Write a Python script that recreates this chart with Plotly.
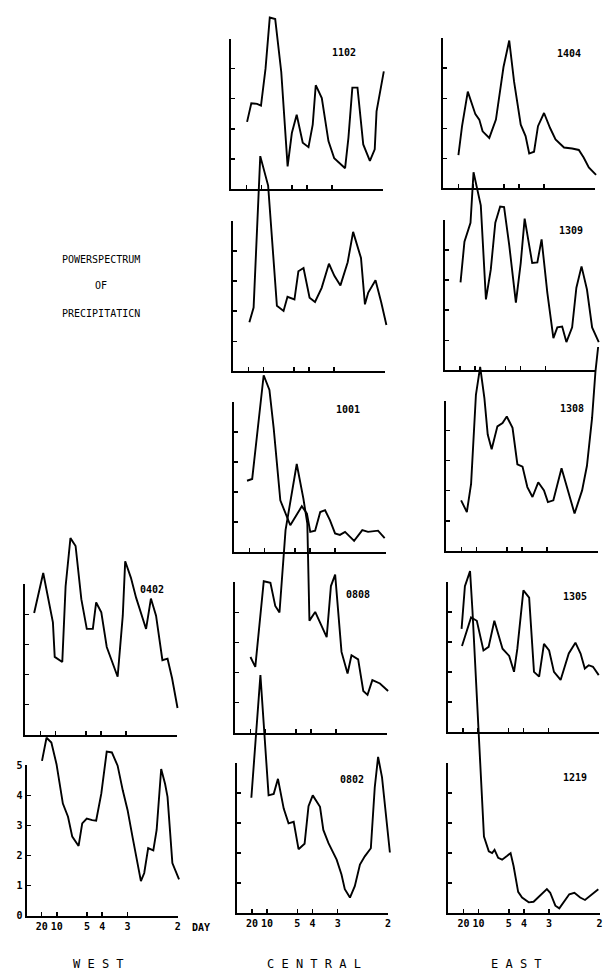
import plotly.graph_objects as go

# ---------------- data: frequency (cycles/day) and power (relative units) ----------------
f_0402 = [0.029, 0.059, 0.091, 0.097, 0.122, 0.133, 0.149, 0.166, 0.185, 0.203, 0.223, 0.234,
          0.251, 0.269, 0.305, 0.322, 0.330, 0.349, 0.366, 0.399, 0.415, 0.432, 0.453, 0.470,
          0.485, 0.503]
p_0402 = [4.05, 5.38, 3.74, 2.59, 2.42, 4.94, 6.54, 6.28, 4.51, 3.52, 3.52, 4.40,
          4.07, 2.92, 1.93, 3.96, 5.77, 5.22, 4.56, 3.52, 4.53, 3.96, 2.48, 2.53,
          1.88, 0.89]

f_0101 = [0.051, 0.066, 0.082, 0.099, 0.120, 0.137, 0.151, 0.172, 0.184, 0.199, 0.217, 0.230,
          0.247, 0.265, 0.282, 0.301, 0.318, 0.334, 0.351, 0.378, 0.389, 0.402, 0.419, 0.430,
          0.445, 0.458, 0.466, 0.482, 0.504]
p_0101 = [5.15, 5.92, 5.76, 5.04, 3.73, 3.29, 2.63, 2.32, 3.07, 3.23, 3.18, 3.16,
          4.06, 5.46, 5.43, 4.99, 4.17, 3.51, 2.58, 1.15, 1.42, 2.25, 2.17, 2.85,
          4.88, 4.38, 3.95, 1.75, 1.21]

f_1102 = [0.052, 0.066, 0.085, 0.098, 0.113, 0.127, 0.145, 0.165, 0.186, 0.200, 0.216, 0.236,
          0.255, 0.269, 0.279, 0.299, 0.321, 0.340, 0.376, 0.387, 0.400, 0.417, 0.436, 0.458,
          0.474, 0.480, 0.504]
p_1102 = [2.23, 2.85, 2.83, 2.77, 4.00, 5.70, 5.65, 3.89, 0.75, 1.86, 2.47, 1.54,
          1.39, 2.14, 3.45, 3.02, 1.59, 1.02, 0.69, 1.70, 3.37, 3.37, 1.48, 0.93,
          1.32, 2.58, 3.91]

f_1030 = [0.053, 0.067, 0.089, 0.115, 0.144, 0.166, 0.179, 0.202, 0.215, 0.232, 0.252, 0.270,
          0.292, 0.316, 0.334, 0.354, 0.378, 0.396, 0.422, 0.435, 0.446, 0.470, 0.489, 0.506]
p_1030 = [1.63, 2.12, 7.16, 6.18, 2.18, 2.01, 2.48, 2.39, 3.33, 3.44, 2.45, 2.31,
          2.78, 3.58, 3.18, 2.86, 3.63, 4.64, 3.77, 2.23, 2.62, 3.03, 2.29, 1.54]

f_1001 = [0.042, 0.059, 0.097, 0.116, 0.130, 0.152, 0.185, 0.203, 0.223, 0.240, 0.251, 0.267,
          0.284, 0.300, 0.316, 0.333, 0.349, 0.366, 0.396, 0.423, 0.442, 0.475, 0.497]
p_1001 = [2.38, 2.44, 5.89, 5.40, 4.14, 1.73, 0.90, 1.18, 1.53, 1.29, 0.68, 0.72,
          1.34, 1.40, 1.07, 0.63, 0.58, 0.68, 0.38, 0.74, 0.68, 0.72, 0.47]

f_0808 = [0.050, 0.066, 0.094, 0.116, 0.132, 0.146, 0.166, 0.203, 0.225, 0.238, 0.245, 0.264,
          0.302, 0.316, 0.330, 0.351, 0.371, 0.384, 0.406, 0.423, 0.437, 0.453, 0.478, 0.505]
p_0808 = [2.52, 2.19, 5.04, 4.99, 4.22, 4.00, 6.74, 8.94, 7.79, 6.96, 3.73, 4.02,
          3.18, 4.88, 5.26, 2.69, 1.97, 2.58, 2.44, 1.39, 1.26, 1.75, 1.64, 1.39]

f_0802 = [0.048, 0.078, 0.105, 0.122, 0.136, 0.155, 0.171, 0.188, 0.204, 0.224, 0.237, 0.251,
          0.275, 0.286, 0.303, 0.330, 0.346, 0.357, 0.374, 0.390, 0.407, 0.423, 0.443, 0.456,
          0.467, 0.480, 0.506]
p_0802 = [3.84, 7.92, 3.92, 3.97, 4.47, 3.48, 2.99, 3.04, 2.13, 2.31, 3.56, 3.92,
          3.54, 2.77, 2.33, 1.78, 1.29, 0.80, 0.52, 0.90, 1.62, 1.89, 2.16, 4.19,
          5.20, 4.52, 2.02]

f_1404 = [0.050, 0.062, 0.081, 0.095, 0.106, 0.119, 0.130, 0.152, 0.174, 0.199, 0.218, 0.234,
          0.256, 0.272, 0.284, 0.300, 0.313, 0.333, 0.353, 0.371, 0.399, 0.426, 0.448, 0.464,
          0.481, 0.505]
p_1404 = [1.11, 2.07, 3.22, 2.78, 2.47, 2.29, 1.90, 1.68, 2.29, 4.04, 4.92, 3.55,
          2.12, 1.74, 1.16, 1.22, 2.07, 2.51, 2.01, 1.63, 1.36, 1.33, 1.28, 1.03,
          0.70, 0.45]

f_1309 = [0.052, 0.065, 0.085, 0.095, 0.119, 0.136, 0.152, 0.167, 0.183, 0.196, 0.213, 0.235,
          0.251, 0.264, 0.289, 0.306, 0.320, 0.339, 0.359, 0.372, 0.388, 0.402, 0.421, 0.435,
          0.452, 0.470, 0.487, 0.509]
p_1309 = [2.93, 4.28, 4.91, 6.59, 5.49, 2.36, 3.35, 4.91, 5.45, 5.43, 4.17, 2.25,
          3.57, 5.05, 3.57, 3.59, 4.36, 2.58, 1.07, 1.43, 1.46, 0.94, 1.43, 2.75,
          3.46, 2.69, 1.43, 0.94]

f_1308 = [0.049, 0.068, 0.082, 0.098, 0.112, 0.126, 0.137, 0.150, 0.169, 0.186, 0.200, 0.219,
          0.235, 0.252, 0.268, 0.285, 0.304, 0.323, 0.336, 0.354, 0.381, 0.402, 0.424, 0.449,
          0.465, 0.482, 0.493, 0.502]
p_1308 = [1.68, 1.29, 2.23, 5.19, 6.12, 5.08, 3.87, 3.38, 4.14, 4.25, 4.47, 4.09,
          2.88, 2.80, 2.12, 1.79, 2.28, 2.01, 1.62, 1.68, 2.75, 2.01, 1.24, 2.01,
          2.83, 4.42, 5.95, 6.78]

f_1305 = [0.047, 0.077, 0.096, 0.118, 0.135, 0.154, 0.181, 0.203, 0.219, 0.230, 0.250, 0.269,
          0.285, 0.302, 0.318, 0.335, 0.351, 0.373, 0.400, 0.422, 0.439, 0.453, 0.466, 0.480,
          0.499]
p_1305 = [2.87, 3.82, 3.71, 2.72, 2.84, 3.71, 2.78, 2.54, 2.01, 2.78, 4.72, 4.48,
          2.01, 1.85, 2.94, 2.72, 2.01, 1.74, 2.62, 2.98, 2.62, 2.12, 2.23, 2.18,
          1.90]

f_1219 = [0.044, 0.055, 0.072, 0.080, 0.118, 0.134, 0.145, 0.153, 0.165, 0.178, 0.195, 0.206,
          0.216, 0.231, 0.244, 0.266, 0.282, 0.304, 0.326, 0.337, 0.354, 0.367, 0.381, 0.400,
          0.417, 0.436, 0.452, 0.469, 0.496]
p_1219 = [9.46, 10.88, 11.38, 10.06, 2.55, 2.06, 2.00, 2.11, 1.84, 1.78, 1.91, 2.00,
          1.56, 0.71, 0.52, 0.36, 0.38, 0.58, 0.80, 0.68, 0.25, 0.16, 0.36, 0.63,
          0.68, 0.52, 0.44, 0.58, 0.80]

period_ticks = [20, 10, 5, 4, 3, 2]          # days
power_ticks = [0, 1, 2, 3, 4, 5]

stations = [
    ("0402", f_0402, p_0402), ("0101", f_0101, p_0101),
    ("1102", f_1102, p_1102), ("1030", f_1030, p_1030), ("1001", f_1001, p_1001),
    ("0808", f_0808, p_0808), ("0802", f_0802, p_0802),
    ("1404", f_1404, p_1404), ("1309", f_1309, p_1309), ("1308", f_1308, p_1308),
    ("1305", f_1305, p_1305), ("1219", f_1219, p_1219),
]

# ---------------- layout (pixel geometry of the panels) ----------------
W, H = 607, 980
HS, VS = 304.0, 30.4   # px per (cycle/day), px per power unit
panel_px = {  # (px of freq 0, px of power 0)
    "0402": (25.5, 737.0), "0101": (26.7, 920.0),
    "1102": (232.5, 185.0), "1030": (234.5, 369.5), "1001": (235.5, 552.5),
    "0808": (236.5, 735.0), "0802": (238.0, 917.5),
    "1404": (445.5, 184.5), "1309": (447.0, 368.5), "1308": (448.5, 551.0),
    "1305": (450.0, 734.5), "1219": (450.5, 917.5),
}
label_pos = {
    "0402": (0.420, 4.84), "0101": (0.419, 5.26),
    "1102": (0.373, 4.55), "1030": (0.374, 5.08), "1001": (0.377, 4.75),
    "0808": (0.406, 4.61), "0802": (0.382, 4.45),
    "1404": (0.415, 4.50), "1309": (0.418, 4.66), "1308": (0.416, 4.75),
    "1305": (0.419, 4.53), "1219": (0.420, 4.52),
}
bottom_row = {"0101", "0802", "1219"}
MONO = "DejaVu Sans Mono"


def axname(k, letter):
    return f"{letter}axis" + ("" if k == 1 else str(k))


def ref(k, letter):
    return letter + ("" if k == 1 else str(k))


fig = go.Figure()
lay = {}
annotations = []
n = len(stations)
for i, (sid, fx, py) in enumerate(stations):
    x0, base = panel_px[sid]
    va, da = i + 1, i + 1 + n
    tickfont = dict(family=MONO, size=10, color="black", weight="bold")
    lay[axname(va, "x")] = dict(
        domain=[x0 / W, (x0 + 0.5 * HS) / W], range=[0, 0.5], anchor=ref(va, "y"),
        showline=True, linecolor="black", linewidth=2, ticks="inside", ticklen=4,
        tickwidth=1.5, tickcolor="black", tickvals=[1.0 / p for p in period_ticks],
        ticktext=[str(p) for p in period_ticks], showticklabels=sid in bottom_row,
        tickfont=tickfont, showgrid=False, zeroline=False, fixedrange=True)
    lay[axname(va, "y")] = dict(
        domain=[1 - base / H, 1 - (base - 5 * VS) / H], range=[0, 5], anchor=ref(va, "x"),
        showline=True, linecolor="black", linewidth=2, ticks="inside", ticklen=4,
        tickwidth=1.5, tickcolor="black", tickvals=power_ticks,
        ticktext=[str(v) for v in power_ticks], showticklabels=(sid == "0101"),
        tickfont=tickfont, showgrid=False, zeroline=False, fixedrange=True)
    # enlarged invisible axes so the curves may run past the panel frame
    left_px = max(0.0, x0 - 0.06 * HS)
    right_px = min(float(W), x0 + 0.56 * HS)
    top_px = max(0.0, base - 12 * VS)
    bot_px = min(float(H), base + 1 * VS)
    lay[axname(da, "x")] = dict(
        domain=[left_px / W, right_px / W],
        range=[(left_px - x0) / HS, (right_px - x0) / HS],
        anchor=ref(da, "y"), visible=False, fixedrange=True)
    lay[axname(da, "y")] = dict(
        domain=[1 - bot_px / H, 1 - top_px / H],
        range=[(base - bot_px) / VS, (base - top_px) / VS],
        anchor=ref(da, "x"), visible=False, fixedrange=True)
    fig.add_trace(go.Scatter(
        x=fx, y=py, mode="lines", line=dict(color="black", width=1.9),
        xaxis=ref(da, "x"), yaxis=ref(da, "y"), showlegend=False, hoverinfo="skip"))
    lx, ly = label_pos[sid]
    annotations.append(dict(
        x=lx, y=ly, xref=ref(va, "x"), yref=ref(va, "y"), text=sid, showarrow=False,
        xanchor="center", yanchor="middle",
        font=dict(family=MONO, size=10, color="black", weight="bold")))

txtfont = dict(family=MONO, size=10, color="black")
for text, yy in [("POWERSPECTRUM", 256), ("OF", 283), ("PRECIPITATICN", 311)]:
    annotations.append(dict(x=101 / W, y=1 - yy / H, xref="paper", yref="paper",
                            xanchor="center", yanchor="middle",
                            text=text, showarrow=False, font=txtfont))
for text, xx in [("W E S T", 99), ("C E N T R A L", 316), ("E A S T", 519)]:
    annotations.append(dict(x=xx / W, y=1 - 969 / H, xref="paper", yref="paper",
                            xanchor="center", yanchor="middle",
                            text=text, showarrow=False,
                            font=dict(family=MONO, size=12, color="black")))
annotations.append(dict(x=202 / W, y=1 - 931.5 / H, xref="paper", yref="paper", text="DAY",
                        xanchor="center", yanchor="middle", showarrow=False,
                        font=dict(family=MONO, size=10, color="black", weight="bold")))

fig.update_layout(
    width=W, height=H, autosize=False, margin=dict(l=0, r=0, t=0, b=0),
    paper_bgcolor="white", plot_bgcolor="rgba(0,0,0,0)",
    showlegend=False, annotations=annotations, **lay)

fig.write_html("out.html", config={"displayModeBar": False, "staticPlot": True},
               post_script="document.body.style.margin='0';document.body.style.overflow='hidden';")
